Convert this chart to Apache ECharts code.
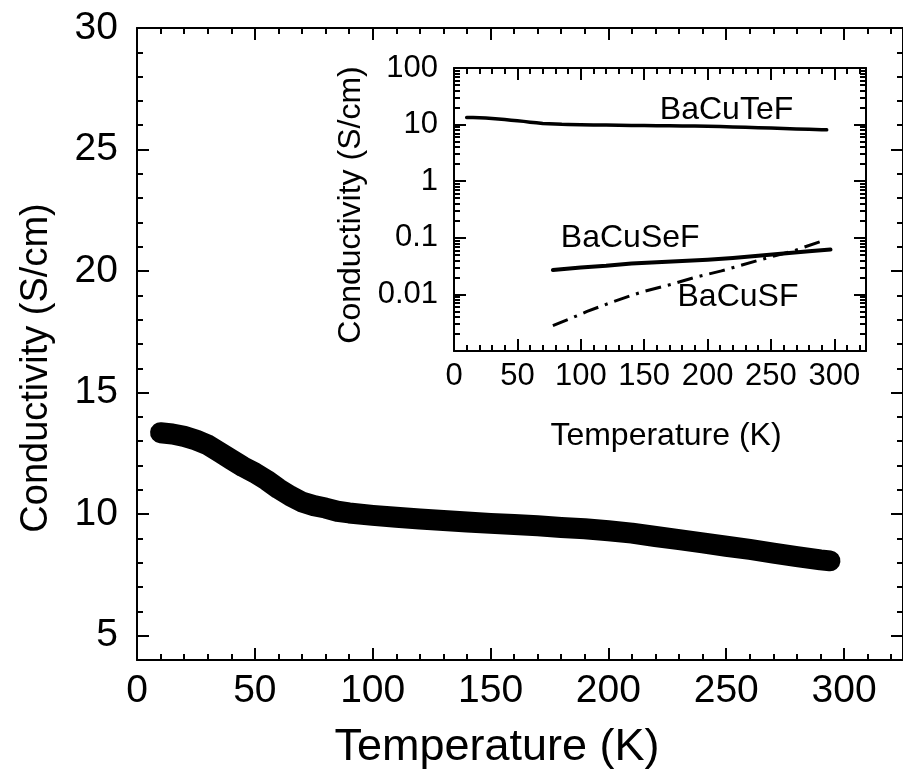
<!DOCTYPE html>
<html>
<head>
<meta charset="utf-8">
<title>Conductivity vs Temperature</title>
<script src="https://cdn.jsdelivr.net/npm/echarts@6/dist/echarts.min.js"></script>
<style>
  html, body { margin: 0; padding: 0; background: #fff; }
  #chart { width: 903px; height: 774px; }
</style>
</head>
<body>
<div id="chart"></div>
<script>
// BaCuTeF conductivity (S/cm) against temperature (K)
const tempTeF = [10, 15, 20, 25, 30, 35, 40, 45, 50, 55, 60, 65, 70, 75, 80, 85, 90, 100,
  110, 120, 130, 140, 150, 160, 170, 180, 190, 200, 210, 220, 230, 240, 250, 260, 270, 280, 290, 294];
const sigmaTeF = [13.35, 13.3, 13.2, 13.05, 12.85, 12.55, 12.25, 11.95, 11.7, 11.4, 11.05, 10.75, 10.5, 10.35, 10.25, 10.12, 10.05, 9.95,
  9.87, 9.8, 9.74, 9.68, 9.62, 9.57, 9.52, 9.45, 9.4, 9.32, 9.22, 9.08, 8.95, 8.82, 8.68, 8.55, 8.4, 8.25, 8.12, 8.08];

// BaCuSeF (solid) and BaCuSF (dash-dot), inset on a log scale
const tempSeF = [78, 100, 120, 140, 160, 180, 200, 220, 240, 260, 280, 297];
const sigmaSeF = [0.027, 0.030, 0.032, 0.035, 0.037, 0.039, 0.041, 0.044, 0.048, 0.053, 0.058, 0.062];
const tempSF = [78, 90, 105, 126, 148, 171, 190, 211, 240, 267, 293];
const sigmaSF = [0.0028, 0.0036, 0.0050, 0.0075, 0.011, 0.015, 0.020, 0.026, 0.040, 0.058, 0.092];

// curve names and where they sit in the inset (temperature, conductivity)
const curveNames = ['BaCuTeF', 'BaCuSeF', 'BaCuSF'];
const curveNameSpots = [[215, 18.1], [139, 0.099], [224, 0.0088]];

// tick values
const tempMajorTicks = [0, 50, 100, 150, 200, 250, 300];
const tempMinorTicks = [];
for (let t = 0; t <= 320; t += 10) tempMinorTicks.push(t);
const mainYMajorTicks = [5, 10, 15, 20, 25, 30];
const mainYMinorTicks = [];
for (let v = 4; v <= 30; v += 1) mainYMinorTicks.push(v);
const insetYMajorTicks = [0.001, 0.01, 0.1, 1, 10, 100];
const insetYLabelValues = [0.01, 0.1, 1, 10, 100];
const insetYLabelTexts = ['0.01', '0.1', '1', '10', '100'];
const insetYMinorTicks = [];
[0.001, 0.01, 0.1, 1, 10].forEach(function (d) {
  for (let k = 2; k <= 9; k++) insetYMinorTicks.push(+(d * k).toPrecision(3));
});

const FONT = '"Liberation Sans", Arial, Helvetica, sans-serif';
const INK = '#000';

function zip(xs, ys) { return xs.map(function (x, i) { return [x, ys[i]]; }); }

function frameAxis(base, opts) {
  return Object.assign({
    splitLine: { show: false },
    axisLine: { show: opts.line !== false, onZero: false, lineStyle: { color: INK, width: 2 } },
    axisTick: { show: true, inside: true, length: opts.tickLen, customValues: opts.ticks,
      lineStyle: { color: INK, width: 2 } },
    axisLabel: opts.labels ? Object.assign({ show: true, color: INK, fontFamily: FONT }, opts.labels)
      : { show: false },
    silent: true
  }, base);
}

const mainX = { gridIndex: 0, type: 'value', min: 0, max: 325 };
const mainY = { gridIndex: 0, type: 'value', min: 4, max: 30 };
const insetX = { gridIndex: 1, type: 'value', min: 0, max: 325 };
const insetY = { gridIndex: 1, type: 'log', logBase: 10, min: 0.001, max: 100 };

const xAxes = [
  frameAxis(Object.assign({ position: 'bottom' }, mainX), { tickLen: 12, ticks: tempMajorTicks,
    labels: { customValues: tempMajorTicks, fontSize: 39, margin: 12 } }),
  frameAxis(Object.assign({ position: 'bottom' }, mainX), { tickLen: 6, ticks: tempMinorTicks, line: false }),
  frameAxis(Object.assign({ position: 'top' }, mainX), { tickLen: 12, ticks: tempMajorTicks }),
  frameAxis(Object.assign({ position: 'top' }, mainX), { tickLen: 6, ticks: tempMinorTicks, line: false }),
  frameAxis(Object.assign({ position: 'bottom' }, insetX), { tickLen: 12, ticks: tempMajorTicks,
    labels: { customValues: tempMajorTicks, fontSize: 31, margin: 10 } }),
  frameAxis(Object.assign({ position: 'bottom' }, insetX), { tickLen: 6, ticks: tempMinorTicks, line: false }),
  frameAxis(Object.assign({ position: 'top' }, insetX), { tickLen: 12, ticks: tempMajorTicks }),
  frameAxis(Object.assign({ position: 'top' }, insetX), { tickLen: 6, ticks: tempMinorTicks, line: false })
];

const yAxes = [
  frameAxis(Object.assign({ position: 'left' }, mainY), { tickLen: 12, ticks: mainYMajorTicks,
    labels: { customValues: mainYMajorTicks, fontSize: 39, margin: 19 } }),
  frameAxis(Object.assign({ position: 'left' }, mainY), { tickLen: 6, ticks: mainYMinorTicks, line: false }),
  frameAxis(Object.assign({ position: 'right' }, mainY), { tickLen: 12, ticks: mainYMajorTicks }),
  frameAxis(Object.assign({ position: 'right' }, mainY), { tickLen: 6, ticks: mainYMinorTicks, line: false }),
  frameAxis(Object.assign({ position: 'left' }, insetY), { tickLen: 12, ticks: insetYMajorTicks,
    labels: { customValues: insetYLabelValues, fontSize: 31, margin: 16,
      formatter: function (v) {
        for (let i = 0; i < insetYLabelValues.length; i++) {
          if (Math.abs(Math.log10(v) - Math.log10(insetYLabelValues[i])) < 1e-6) return insetYLabelTexts[i];
        }
        return '';
      } } }),
  frameAxis(Object.assign({ position: 'left' }, insetY), { tickLen: 6, ticks: insetYMinorTicks, line: false }),
  frameAxis(Object.assign({ position: 'right' }, insetY), { tickLen: 12, ticks: insetYMajorTicks }),
  frameAxis(Object.assign({ position: 'right' }, insetY), { tickLen: 6, ticks: insetYMinorTicks, line: false })
];

function textEl(id, text, x, y, size, rotation) {
  return { type: 'text', id: id, x: x, y: y, rotation: rotation || 0, silent: true, z: 10,
    style: { text: text, font: size + 'px ' + FONT, fill: INK,
      align: 'center', verticalAlign: 'middle', textAlign: 'center', textVerticalAlign: 'middle' } };
}

const chart = echarts.init(document.getElementById('chart'), null, { renderer: 'canvas' });
chart.setOption({
  backgroundColor: '#fff',
  animation: false,
  grid: [
    { left: 137, top: 28, width: 772, height: 632, containLabel: false },
    { left: 454, top: 68, width: 412, height: 283, containLabel: false }
  ],
  xAxis: xAxes,
  yAxis: yAxes,
  graphic: [
    textEl('mainXName', 'Temperature (K)', 497, 748, 45),
    textEl('mainYName', 'Conductivity (S/cm)', 37, 368, 38, Math.PI / 2),
    textEl('insetXName', 'Temperature (K)', 666, 436, 32),
    textEl('insetYName', 'Conductivity (S/cm)', 351, 205, 32, Math.PI / 2)
  ],
  series: [
    {
      name: 'BaCuTeF', type: 'line', xAxisIndex: 0, yAxisIndex: 0,
      data: zip(tempTeF, sigmaTeF), showSymbol: false, silent: true,
      lineStyle: { color: INK, width: 21, cap: 'round', join: 'round' }
    },
    {
      name: 'BaCuTeF inset', type: 'line', xAxisIndex: 4, yAxisIndex: 4,
      data: zip(tempTeF, sigmaTeF), showSymbol: false, silent: true,
      lineStyle: { color: INK, width: 3.5, cap: 'round', join: 'round' }
    },
    {
      name: 'BaCuSeF', type: 'line', xAxisIndex: 4, yAxisIndex: 4,
      data: zip(tempSeF, sigmaSeF), showSymbol: false, silent: true,
      lineStyle: { color: INK, width: 4, cap: 'round', join: 'round' }
    },
    {
      name: 'BaCuSF', type: 'line', xAxisIndex: 4, yAxisIndex: 4,
      data: zip(tempSF, sigmaSF), showSymbol: false, silent: true,
      lineStyle: { color: INK, width: 3, type: [16, 7, 3, 7], cap: 'butt' }
    }
  ]
});

// curve names placed through the inset's own axes
const nameEls = curveNames.map(function (name, i) {
  const p = chart.convertToPixel({ xAxisIndex: 4, yAxisIndex: 4 }, curveNameSpots[i]);
  return textEl('curveName' + i, name, p[0], p[1], 32);
});
chart.setOption({ graphic: nameEls });
</script>
</body>
</html>
